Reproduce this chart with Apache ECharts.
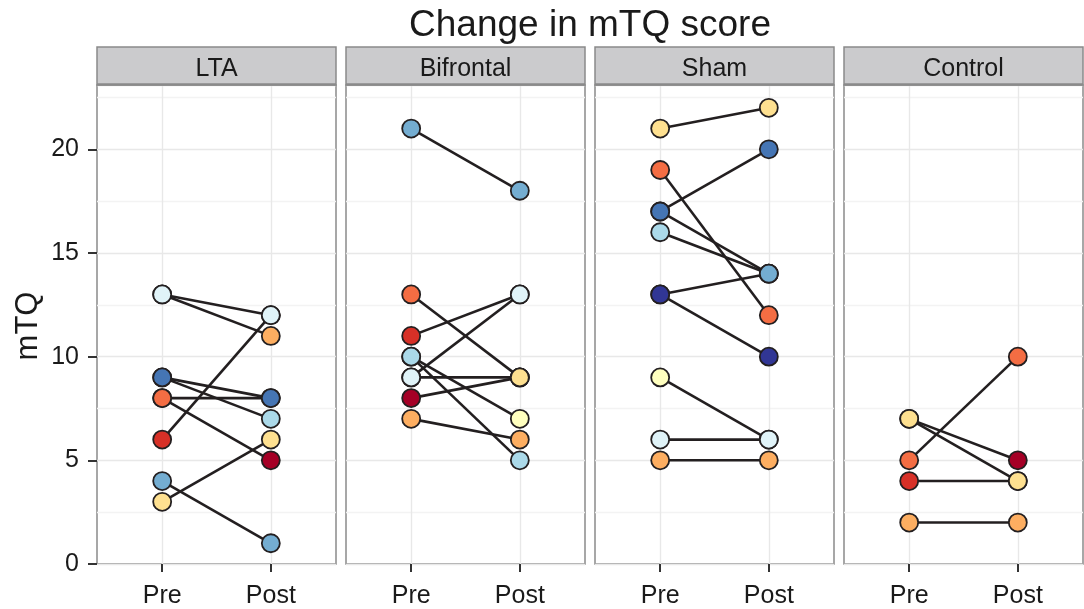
<!DOCTYPE html>
<html>
<head>
<meta charset="utf-8">
<script src="https://cdn.jsdelivr.net/npm/echarts@6/dist/echarts.min.js"></script>
<style>html,body{margin:0;padding:0;background:#fff}#chart{width:1084px;height:609px}</style>
</head>
<body>
<div id="chart"></div>
<script>
// ---- data ----
const chartTitle = 'Change in mTQ score';
const yName = 'mTQ';
const panelNames = ['LTA', 'Bifrontal', 'Sham', 'Control'];
const timeLabels = ['Pre', 'Post'];
const yTicks = [0, 5, 10, 15, 20];

// subject index -> colour in the RdYlBu palette
const ltaSubject = [0, 1, 2, 3, 4, 6, 7, 8, 9];
const ltaPre     = [8, 6, 8, 13, 3, 13, 9, 4, 9];
const ltaPost    = [5, 12, 8, 11, 6, 12, 7, 1, 8];

const bifSubject = [0, 1, 2, 3, 4, 5, 6, 7, 8];
const bifPre     = [8, 11, 13, 7, 9, 10, 9, 10, 21];
const bifPost    = [9, 13, 9, 6, 9, 7, 13, 5, 18];

const shamSubject = [1, 2, 3, 4, 5, 6, 7, 8, 9, 10];
const shamPre     = [13, 19, 5, 21, 9, 6, 16, 17, 17, 13];
const shamPost    = [14, 12, 5, 22, 6, 6, 14, 14, 20, 10];

const ctrlSubject = [0, 1, 2, 3, 4];
const ctrlPre     = [7, 4, 5, 2, 7];
const ctrlPost    = [5, 4, 10, 2, 4];

// ---- styles ----
const palette = ['#a50026', '#d73027', '#f46d43', '#fdae61', '#fee090', '#ffffbf',
                 '#e0f3f8', '#abd9e9', '#74add1', '#4575b4', '#313695'];
const FONT = '"Liberation Sans", Arial, Helvetica, sans-serif';
const panels = [
  [ltaSubject, ltaPre, ltaPost],
  [bifSubject, bifPre, bifPost],
  [shamSubject, shamPre, shamPost],
  [ctrlSubject, ctrlPre, ctrlPost]
];
const P_LEFT = 97, P_W = 239, P_STEP = 249, P_TOP = 85, P_H = 481;
const S_TOP = 47;

const grid = [], xAxis = [], yAxis = [], series = [], graphic = [];

panels.forEach((p, i) => {
  const left = P_LEFT + i * P_STEP;
  grid.push({left: left, top: P_TOP, width: P_W, height: P_H, show: true,
    backgroundColor: '#ffffff', borderColor: '#8a8a8a', borderWidth: 1.5});
  xAxis.push({type: 'value', gridIndex: i, min: 0.4, max: 2.6,
    axisLine: {show: false},
    axisTick: {show: true, customValues: [1, 2], length: 8, lineStyle: {color: '#333', width: 2}},
    axisLabel: {customValues: [1, 2], formatter: v => timeLabels[Math.round(v) - 1] || '',
      margin: 20, fontSize: 25, color: '#1a1a1a', fontFamily: FONT},
    splitLine: {show: true, lineStyle: {color: '#e8e8e8', width: 1.4}}
  });
  // gridline axis (major + minor)
  yAxis.push({type: 'value', gridIndex: i, position: 'left', min: 0, max: 23.1, interval: 2.5,
    axisLine: {show: false}, axisTick: {show: false}, axisLabel: {show: false},
    splitLine: {show: true, lineStyle: {color: ['#e8e8e8', '#f3f3f3'], width: 1.4}}
  });
  // tick / label axis
  yAxis.push({type: 'value', gridIndex: i, position: 'left', min: 0, max: 23.1, interval: 5,
    axisLine: {show: false},
    axisTick: {show: i === 0, customValues: yTicks, length: 9, lineStyle: {color: '#333', width: 2}},
    axisLabel: {show: i === 0, customValues: yTicks, margin: 18, fontSize: 25, color: '#1a1a1a', fontFamily: FONT},
    splitLine: {show: false}
  });
  const subj = p[0], pre = p[1], post = p[2];
  subj.forEach((s, k) => {
    series.push({type: 'line', xAxisIndex: i, yAxisIndex: 2 * i, silent: true,
      showSymbol: false, symbol: 'none', z: 2, animation: false,
      lineStyle: {color: '#231f20', width: 2.6},
      data: [[1, pre[k]], [2, post[k]]]});
  });
  const pts = [];
  subj.forEach((s, k) => {
    pts.push({value: [1, pre[k]], itemStyle: {color: palette[s]}});
    pts.push({value: [2, post[k]], itemStyle: {color: palette[s]}});
  });
  series.push({type: 'scatter', xAxisIndex: i, yAxisIndex: 2 * i, z: 3, silent: true,
    symbol: 'circle', symbolSize: 18, animation: false,
    itemStyle: {borderColor: '#231f20', borderWidth: 1.8, opacity: 1},
    data: pts});
  // strip
  graphic.push({type: 'rect', shape: {x: left, y: S_TOP, width: P_W, height: P_TOP - S_TOP},
    style: {fill: '#cbcbcd', stroke: '#8a8a8a', lineWidth: 1.5}, z: 10});
  graphic.push({type: 'line', shape: {x1: left, y1: P_TOP - 0.5, x2: left + P_W, y2: P_TOP - 0.5},
    style: {stroke: '#8a8a8a', lineWidth: 2.5}, z: 11});
  graphic.push({type: 'text', x: left + P_W / 2, y: 69, z: 12,
    style: {text: panelNames[i], fontSize: 25, fontFamily: FONT, fill: '#1a1a1a',
      align: 'center', verticalAlign: 'middle'}});
});

graphic.push({type: 'text', x: 590, y: 26, z: 12,
  style: {text: chartTitle, fontSize: 37, fontFamily: FONT, fill: '#1a1a1a',
    align: 'center', verticalAlign: 'middle'}});
graphic.push({type: 'text', x: 28, y: 326, rotation: Math.PI / 2, z: 12,
  style: {text: yName, fontSize: 31, fontFamily: FONT, fill: '#1a1a1a',
    align: 'center', verticalAlign: 'middle'}});

const chart = echarts.init(document.getElementById('chart'), null, {renderer: 'canvas'});
chart.setOption({
  animation: false,
  backgroundColor: '#ffffff',
  textStyle: {fontFamily: FONT},
  grid: grid, xAxis: xAxis, yAxis: yAxis, series: series, graphic: graphic
});
</script>
</body>
</html>
